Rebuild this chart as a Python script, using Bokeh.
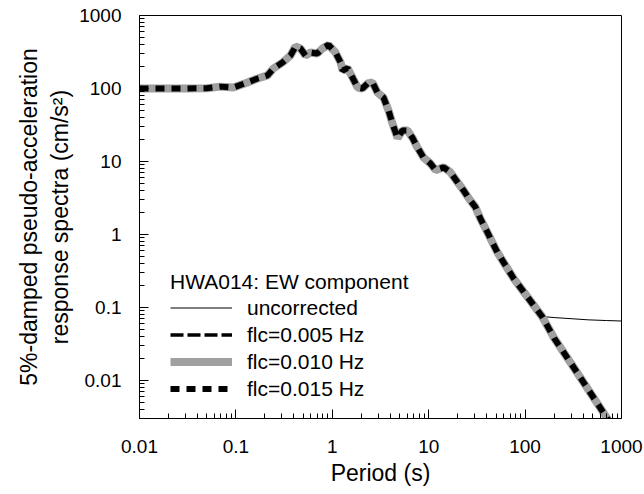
from bokeh.plotting import figure
from bokeh.models import FixedTicker, Legend, LegendItem
from bokeh.embed import file_html
from bokeh.resources import INLINE

# Shared part of the spectra (period in s, PSA in cm/s^2)
period_s = [0.01, 0.02, 0.03, 0.05, 0.069, 0.094, 0.132, 0.168, 0.213, 0.245,
            0.304, 0.368, 0.415, 0.468, 0.527, 0.594, 0.701, 0.791, 0.914, 1.08,
            1.22, 1.28, 1.44, 1.62, 1.83, 2.06, 2.32, 2.61, 2.94, 3.40,
            3.83, 4.21, 4.75, 5.35, 6.03, 6.79, 7.65, 8.83, 10.4, 11.8,
            14.3, 16.8, 19.9, 23.0, 27.1, 30.5, 34.4, 40.5, 45.6, 51.5,
            62.6, 76.4, 96.0, 150.0]
psa_common = [100, 100, 100, 101, 106, 103, 121, 137, 151, 188,
              227, 283, 375, 353, 283, 311, 302, 353, 395, 311,
              227, 176, 190, 141, 103, 100, 117, 121, 88, 75,
              50, 33, 21, 26.6, 26.6, 21, 15.5, 11.3, 9.4, 7.6,
              8.3, 7.1, 5.2, 4.0, 2.9, 2.37, 1.64, 1.08, 0.785, 0.57,
              0.376, 0.247, 0.165, 0.075]

# Long-period tails
tail_period_uncorrected = [200, 300, 450, 700, 1000]
tail_psa_uncorrected = [0.0725, 0.070, 0.0675, 0.066, 0.065]

tail_period_corrected = [200, 300, 500, 700, 1000]
tail_psa_flc005 = [0.038, 0.017, 0.0061, 0.0031, 0.0015]
tail_psa_flc010 = [0.038, 0.017, 0.0061, 0.0031, 0.0015]
tail_psa_flc015 = [0.038, 0.017, 0.0061, 0.0031, 0.0015]

x_ticks = [0.01, 0.1, 1, 10, 100, 1000]
x_tick_labels = ["0.01", "0.1", "1", "10", "100", "1000"]
y_ticks = [0.01, 0.1, 1, 10, 100, 1000]
y_tick_labels = ["0.01", "0.1", "1", "10", "100", "1000"]

FONT = "Liberation Sans"

p = figure(width=644, height=494, x_axis_type="log", y_axis_type="log",
           x_range=(0.01, 1000), y_range=(0.003, 1000),
           output_backend="svg", toolbar_location=None,
           min_border_left=139, min_border_right=23,
           min_border_top=15, min_border_bottom=76)
p.xgrid.visible = False
p.ygrid.visible = False
p.outline_line_color = "black"
p.outline_line_width = 1
p.background_fill_color = "white"
p.border_fill_color = "white"

x_minor = [m * 10.0 ** k for k in range(-2, 3) for m in range(2, 10)]
y_minor = [m * 10.0 ** k for k in range(-3, 3) for m in range(2, 10) if m * 10.0 ** k >= 0.003]

p.xaxis.ticker = FixedTicker(ticks=x_ticks, minor_ticks=x_minor)
p.yaxis.ticker = FixedTicker(ticks=y_ticks, minor_ticks=y_minor)
p.xaxis.major_label_overrides = dict(zip(x_ticks, x_tick_labels))
p.yaxis.major_label_overrides = dict(zip(y_ticks, y_tick_labels))

for ax in (p.xaxis, p.yaxis):
    ax.major_tick_in = 9
    ax.major_tick_out = 0
    ax.minor_tick_in = 5
    ax.minor_tick_out = 0
    ax.axis_line_color = "black"
    ax.major_tick_line_color = "black"
    ax.minor_tick_line_color = "black"
    ax.major_label_text_font = FONT
    ax.major_label_text_font_size = "19px"
    ax.major_label_text_color = "black"
    ax.axis_label_text_font = FONT
    ax.axis_label_text_font_size = "23px"
    ax.axis_label_text_font_style = "normal"
    ax.axis_label_text_color = "black"

p.xaxis.axis_label = "Period (s)"
p.yaxis.axis_label = "5%-damped pseudo-acceleration\nresponse spectra (cm/s\u00b2)"
p.xaxis.major_label_standoff = 21
p.xaxis.axis_label_standoff = 4
p.yaxis.major_label_standoff = 18
p.yaxis.axis_label_standoff = 3

r_unc = p.line(period_s + tail_period_uncorrected, psa_common + tail_psa_uncorrected,
               line_color="black", line_width=1)
r_005 = p.line(period_s + tail_period_corrected, psa_common + tail_psa_flc005,
               line_color="black", line_width=3.5, line_dash="13 4")
r_010 = p.line(period_s + tail_period_corrected, psa_common + tail_psa_flc010,
               line_color="#a0a0a0", line_width=8)
r_015 = p.line(period_s + tail_period_corrected, psa_common + tail_psa_flc015,
               line_color="black", line_width=6, line_dash="9 7")

legend = Legend(items=[
    LegendItem(label="uncorrected", renderers=[r_unc]),
    LegendItem(label="flc=0.005 Hz", renderers=[r_005]),
    LegendItem(label="flc=0.010 Hz", renderers=[r_010]),
    LegendItem(label="flc=0.015 Hz", renderers=[r_015]),
], location=(31, 16), title="HWA014: EW component",
    title_text_font=FONT, title_text_font_size="21px", title_text_font_style="normal",
    title_text_color="black", title_standoff=0,
    label_text_font=FONT, label_text_font_size="21px", label_text_color="black",
    glyph_width=62, glyph_height=27, label_height=27, spacing=0,
    padding=0, margin=0, label_standoff=15,
    border_line_color=None, background_fill_alpha=0)
p.add_layout(legend)

open("out.html", "w").write(file_html(p, INLINE))
